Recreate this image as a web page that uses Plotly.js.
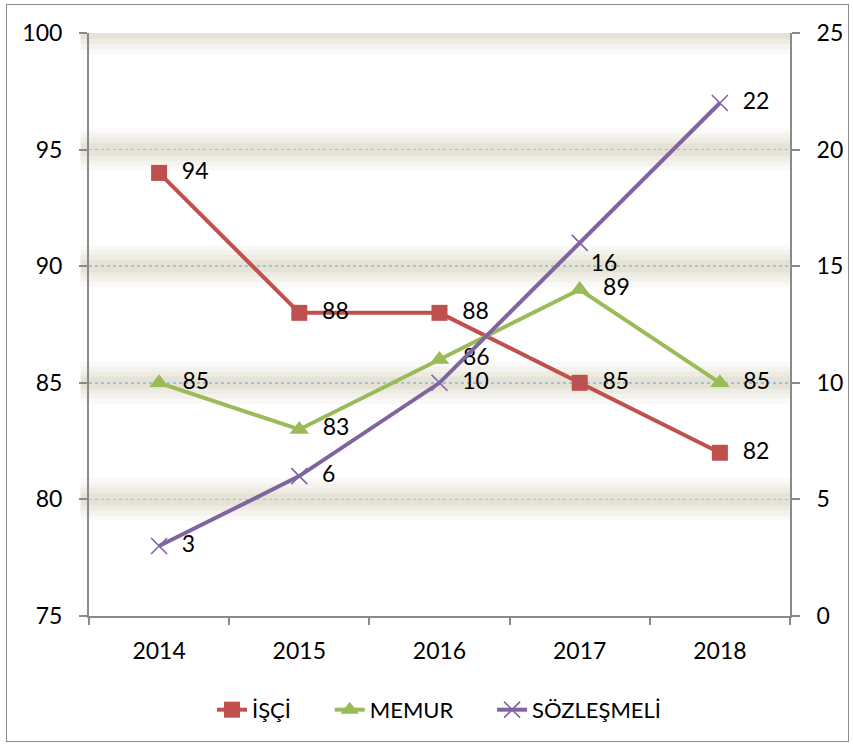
<!DOCTYPE html>
<html>
<head>
<meta charset="utf-8">
<script src="https://cdn.plot.ly/plotly-3.0.1.min.js"></script>
<style>
  html, body { margin: 0; padding: 0; background: #fff; }
  #wrap { position: relative; width: 853px; height: 744px; }
  #chart { position: absolute; left: 0; top: 0; width: 853px; height: 744px; }
  #frame { position: absolute; left: 6px; top: 4px; width: 841px; height: 736px;
           border: 1.5px solid #8c8c8c; pointer-events: none; }
</style>
</head>
<body>
<div id="wrap"><div id="chart"></div><div id="frame"></div></div>
<script>
// ---- data ----
const years = ["2014", "2015", "2016", "2017", "2018"];
const isci = [94, 88, 88, 85, 82];
const memur = [85, 83, 86, 89, 85];
const sozlesmeli = [3, 6, 10, 16, 22];
const seriesNames = ["İŞÇİ", "MEMUR", "SÖZLEŞMELİ"];
const sozLabelPos = ["middle right", "middle right", "middle right", "bottom right", "middle right"];
const leftRange = [75, 100];
const rightRange = [0, 25];
const gridVals = [80, 85, 90, 95, 100];

const FONT = "Lato, 'Open Sans', 'DejaVu Sans', sans-serif";
const red = "#C0504D", green = "#9BBB59", purple = "#8064A2";
const PAD = "\u00A0\u00A0";
const LEGEND_GAP = "\u00A0\u00A0\u00A0\u00A0\u00A0\u00A0";
const lab = (v, pos) => (pos === "middle right" ? PAD : "") + String(v);

const traces = [
  {
    x: years, y: isci, name: seriesNames[0] + LEGEND_GAP, type: "scatter", mode: "lines+markers+text",
    line: { color: red, width: 4 },
    marker: { symbol: "square", size: 16, color: red },
    text: isci.map(v => lab(v, "middle right")), textposition: "middle right",
    textfont: { family: FONT, size: 23, color: "#000" },
    cliponaxis: false
  },
  {
    x: years, y: memur, name: seriesNames[1] + LEGEND_GAP, type: "scatter", mode: "lines+markers+text",
    line: { color: green, width: 4 },
    marker: { symbol: "triangle-up", size: 17, color: green },
    text: memur.map(v => lab(v, "middle right")), textposition: "middle right",
    textfont: { family: FONT, size: 23, color: "#000" },
    cliponaxis: false
  },
  {
    x: years, y: sozlesmeli, name: seriesNames[2], type: "scatter", mode: "lines+markers+text",
    yaxis: "y2",
    line: { color: purple, width: 4 },
    marker: { symbol: "x-thin", size: 16, color: purple, line: { color: purple, width: 1.6 } },
    text: sozlesmeli.map((v, i) => lab(v, sozLabelPos[i])), textposition: sozLabelPos,
    textfont: { family: FONT, size: 23, color: "#000" },
    cliponaxis: false
  }
];

// glow bands behind gridlines
const glowLayers = [
  { w: 42, o: 0.08 }, { w: 32, o: 0.10 }, { w: 22, o: 0.13 }, { w: 12, o: 0.17 }
];
const shapes = [];
gridVals.forEach(v => {
  glowLayers.forEach(g => {
    shapes.push({
      type: "line", xref: "paper", yref: "y", x0: -0.012, x1: 1.0, y0: v, y1: v,
      line: { color: "rgb(196,190,160)", width: g.w }, opacity: g.o, layer: "below"
    });
  });
});

const axisColor = "#8a8a8a";
const layout = {
  width: 853, height: 744,
  margin: { l: 89, r: 63, t: 33, b: 128 },
  paper_bgcolor: "#fff", plot_bgcolor: "rgba(0,0,0,0)",
  font: { family: FONT, size: 22, color: "#000" },
  showlegend: true,
  legend: {
    orientation: "h", x: 0.5, xanchor: "center", y: -0.125, yanchor: "top",
    font: { family: FONT, size: 22, color: "#000" },
    itemwidth: 30, tracegroupgap: 0
  },
  xaxis: {
    type: "category", range: [-0.5, 4.5],
    showline: true, linecolor: axisColor, linewidth: 2,
    ticks: "outside", tickson: "boundaries", ticklen: 7, tickcolor: axisColor, tickwidth: 2,
    showgrid: false, zeroline: false,
    tickfont: { family: FONT, size: 23, color: "#000" },
    ticklabelstandoff: 13
  },
  yaxis: {
    range: leftRange, dtick: 5, tick0: 75,
    showline: true, linecolor: axisColor, linewidth: 2,
    ticks: "outside", ticklen: 8, tickcolor: axisColor, tickwidth: 2,
    showgrid: true, gridcolor: "#A4BEE0", gridwidth: 1.5, griddash: "dot",
    zeroline: false,
    tickfont: { family: FONT, size: 23, color: "#000" },
    ticklabelstandoff: 12
  },
  yaxis2: {
    range: rightRange, dtick: 5, tick0: 0,
    overlaying: "y", side: "right",
    showline: true, linecolor: axisColor, linewidth: 2,
    ticks: "outside", ticklen: 8, tickcolor: axisColor, tickwidth: 2,
    showgrid: false, zeroline: false,
    tickfont: { family: FONT, size: 23, color: "#000" },
    ticklabelstandoff: 12
  },
  shapes: shapes
};

Plotly.newPlot("chart", traces, layout, { displayModeBar: false, staticPlot: true });
</script>
</body>
</html>
